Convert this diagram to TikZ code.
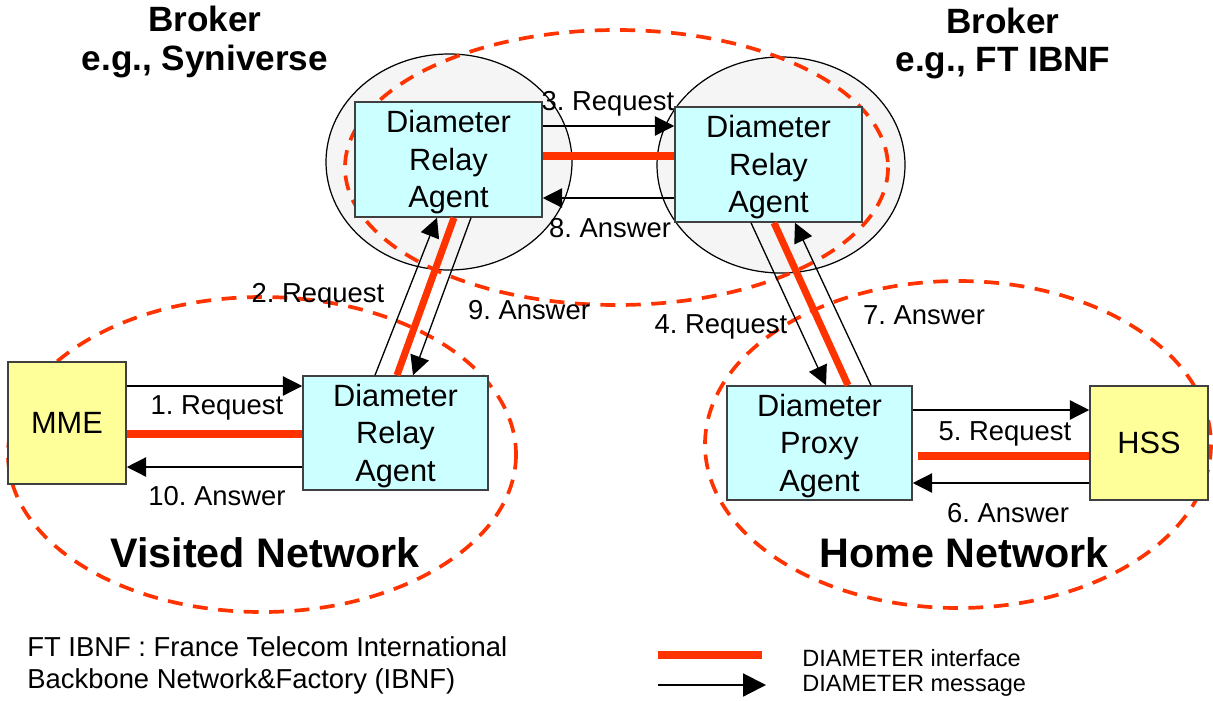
\documentclass[tikz,border=0pt]{standalone}
\usepackage{fontspec}
\setmainfont{Liberation Sans}
\usetikzlibrary{arrows.meta}
\frenchspacing
\definecolor{ifred}{HTML}{FF3300}
\definecolor{boxcyan}{HTML}{CCFFFF}
\definecolor{boxyellow}{HTML}{FFFF99}
\definecolor{brokergrey}{HTML}{F5F5F5}
\definecolor{boxedge}{HTML}{404040}
\newcommand\mytopstrut{\rule{0pt}{16pt}}
\tikzset{
  agentbox/.style={draw=boxedge, line width=0.9pt, fill=boxcyan, align=center,
    inner sep=0pt, font=\fontsize{17.5}{21.3}\selectfont},
  elembox/.style={draw=boxedge, line width=0.9pt, fill=boxyellow, align=center,
    inner sep=0pt, font=\fontsize{17.5}{21.3}\selectfont},
  msg/.style={line width=0.75pt, -{Triangle[length=11pt,width=11pt]}},
  bigmsg/.style={line width=1.2pt, -{Triangle[length=13pt,width=13pt]}},
  iface/.style={draw=ifred, line width=4pt},
  netring/.style={draw=ifred, line width=2.1pt, dash pattern=on 8.5pt off 6pt},
  broker/.style={draw=black, line width=0.7pt, fill=brokergrey},
  lbl/.style={font=\fontsize{15.6}{18}\selectfont, inner sep=0pt},
  head/.style={font=\bfseries\fontsize{20}{24}\selectfont, inner sep=0pt},
  netname/.style={font=\bfseries\fontsize{23.5}{28}\selectfont, inner sep=0pt},
  note/.style={font=\fontsize{15.6}{18}\selectfont, inner sep=0pt, anchor=west},
  legend/.style={font=\fontsize{13.4}{16}\selectfont, inner sep=0pt, anchor=west}
}
\begin{document}
\begin{tikzpicture}[x=0.02cm, y=-0.02cm]
\useasboundingbox (0,0) rectangle (1213,700);
% broker clouds
\draw[broker] (449,162) ellipse [x radius=123, y radius=108];
\draw[broker] (781,165) ellipse [x radius=124, y radius=108];
% network rings
\draw[netring] (616.5,167.5) ellipse [x radius=271.5, y radius=137.5];
\draw[netring] (262,454.5) ellipse [x radius=254, y radius=157.5];
\draw[netring] (958,444.5) ellipse [x radius=253, y radius=163.5];
% boxes
\node[agentbox, minimum width=3.74cm, minimum height=2.3cm] (lr) at (448.5,159.5) {\mytopstrut Diameter\\Relay\\Agent};
\node[agentbox, minimum width=3.74cm, minimum height=2.3cm] (rr) at (768.5,164.5) {\mytopstrut Diameter\\Relay\\Agent};
\node[elembox, minimum width=2.36cm, minimum height=2.44cm] (mme) at (67,423) {MME};
\node[agentbox, minimum width=3.7cm, minimum height=2.28cm] (vr) at (395.5,433) {\mytopstrut Diameter\\Relay\\Agent};
\node[agentbox, minimum width=3.7cm, minimum height=2.28cm] (px) at (819.5,443) {\mytopstrut Diameter\\Proxy\\Agent};
\node[elembox, minimum width=2.36cm, minimum height=2.28cm] (hss) at (1149,443) {HSS};
% MME <-> visited relay
\draw[msg] (mme.east |- 0,386) -- (vr.west |- 0,386);
\draw[iface] (mme.east |- 0,434) -- (vr.west |- 0,434);
\draw[msg] (vr.west |- 0,467) -- (mme.east |- 0,467);
% relay <-> relay
\draw[msg] (lr.east |- 0,126) -- (rr.west |- 0,126);
\draw[iface] (lr.east |- 0,156) -- (rr.west |- 0,156);
\draw[msg] (rr.west |- 0,198) -- (lr.east |- 0,198);
% visited relay <-> left broker relay
\draw[msg] (375,0 |- vr.north) -- (437,0 |- lr.south);
\draw[iface] (397,0 |- vr.north) -- (454,0 |- lr.south);
\draw[msg] (471,0 |- lr.south) -- (413,0 |- vr.north);
% right broker relay <-> proxy
\draw[msg] (751,0 |- rr.south) -- (826,0 |- px.north);
\draw[iface] (774,0 |- rr.south) -- (848,0 |- px.north);
\draw[msg] (871,0 |- px.north) -- (795,0 |- rr.south);
% proxy <-> HSS
\draw[msg] (px.east |- 0,410) -- (hss.west |- 0,410);
\draw[iface] ([xshift=3pt]px.east |- 0,456) -- (hss.west |- 0,456);
\draw[msg] (hss.west |- 0,483) -- (px.east |- 0,483);
% labels
\node[lbl] (l1) at (217,408) {1. Request};
\node[lbl] (l10) at (217,496) {10. Answer};
\node[lbl] (l2) at (318,296) {2. Request};
\node[lbl] (l9) at (529,310) {9. Answer};
\node[lbl] (l3) at (608,104) {3. Request};
\node[lbl] (l8) at (610,228) {8. Answer};
\node[lbl] (l4) at (721,327) {4. Request};
\node[lbl] (l7) at (924,315) {7. Answer};
\node[lbl] (l5) at (1005,434) {5. Request};
\node[lbl] (l6) at (1008,513) {6. Answer};
% headings
\node[head] (b1) at (205,19) {Broker};
\node[head] (b1e) at (205,61) {e.g., Syniverse};
\node[head] (b2) at (1003,21) {Broker};
\node[head] (b2e) at (1003,63) {e.g., FT IBNF};
\node[netname] (vn) at (265,553) {Visited Network};
\node[netname] (hn) at (964,553) {Home Network};
% footnote
\node[note] (n1) at (27,647) {FT IBNF : France Telecom International};
\node[note] (n2) at (27,681) {Backbone Network\&Factory (IBNF)};
% legend
\coordinate (lgA) at (658,655);
\coordinate (lgB) at (762,655);
\coordinate (lgC) at (658,685);
\coordinate (lgD) at (766,685);
\draw[iface] (lgA) -- (lgB);
\draw[bigmsg] (lgC) -- (lgD);
\node[legend] (t1) at (802,658) {DIAMETER interface};
\node[legend] (t2) at (802,686) {DIAMETER message};
\end{tikzpicture}
\end{document}
